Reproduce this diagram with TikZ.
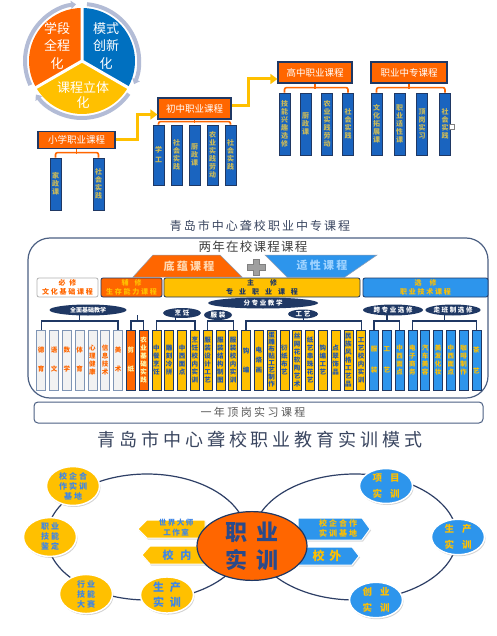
\documentclass[tikz,border=0pt]{standalone}
\usepackage{fontspec}
\setmainfont{Noto Sans CJK SC}
\usetikzlibrary{shapes.geometric,shadows,arrows.meta,calc}
\definecolor{cor}{HTML}{FF6600}
\definecolor{cbl}{HTML}{0070C0}
\definecolor{cye}{HTML}{FFC000}
\definecolor{navy}{HTML}{1F3864}
\definecolor{ring}{HTML}{B3BCD6}
\definecolor{tcolf}{HTML}{1A64BF}
\definecolor{tcolt}{HTML}{C9B95A}
\definecolor{lbl}{HTML}{2D95EC}
\definecolor{ybt}{HTML}{1F56B0}
\definecolor{gfill}{HTML}{F2F2F2}
\definecolor{gline}{HTML}{7F95B5}
\definecolor{ttl}{HTML}{3A4660}
\definecolor{cbt}{HTML}{3D86E8}
\definecolor{rline}{HTML}{2E3F66}
\definecolor{core}{HTML}{2A4A8A}
\definecolor{dyt}{HTML}{FFD8B0}
\definecolor{sxt}{HTML}{9FD3FF}
\begin{document}
\begin{tikzpicture}[x=1pt,y=-1pt,
  topbox/.style={draw=navy,line width=1.2,fill=cor,text=white,inner sep=0,font=\fontsize{9.5}{10}\selectfont},
  tcol/.style={draw=navy,line width=0.8,fill=tcolf,text=tcolt,minimum width=11,inner sep=0,align=center,font=\fontsize{7}{8}\selectfont\bfseries},
  obr/.style={draw=cor,line width=1.6,rounded corners=2},
  yarr/.style={draw=cye,line width=3,-{Triangle[length=7pt,width=10pt]}},
  rbox/.style={draw=navy,line width=0.8,rounded corners=2,minimum height=19,inner sep=0,align=center,font=\fontsize{7}{9.5}\selectfont\bfseries\addfontfeature{LetterSpace=25}},
  col/.style={draw=navy,line width=0.7,minimum width=9,minimum height=60,inner sep=0,align=center,font=\fontsize{6.5}{8}\selectfont\bfseries},
  gcol/.style={col,fill=gfill,draw=gline,text=cor},
  ocol/.style={col,fill=cor,text=yellow!30},
  ycol/.style={col,fill=cye,text=ybt},
  bcol/.style={col,fill=lbl,text=cye},
  lab/.style={ellipse,fill=navy,text=white,inner sep=0,font=\fontsize{6.5}{6.5}\selectfont\bfseries\addfontfeature{LetterSpace=25}},
  nbr/.style={draw=navy,line width=1.4},
  ycirc/.style={ellipse,fill=cye,draw=white,line width=1.5,drop shadow={opacity=0.35,shadow xshift=1pt,shadow yshift=-1.5pt},minimum width=53,minimum height=35,inner sep=0,align=center,text=cbt,font=\fontsize{8}{10}\selectfont\bfseries\addfontfeature{LetterSpace=25}},
  bcirc/.style={ycirc,fill=lbl,text=cye,font=\fontsize{9.5}{16}\selectfont\bfseries},
  pen/.style={draw=white,line width=1,drop shadow={opacity=0.3,shadow xshift=1pt,shadow yshift=-1.5pt}},
  ]
\useasboundingbox (0,0) rectangle (497,636);
\fill[white] (0,0) rectangle (497,636);

% ---------- pie ----------
\begin{scope}[shift={(82,61)},y=1pt]
  \fill[cor] (0,0) -- (90:53) arc[start angle=90,end angle=210,radius=53] -- cycle;
  \fill[cbl] (0,0) -- (-30:53) arc[start angle=-30,end angle=90,radius=53] -- cycle;
  \fill[cye] (0,0) -- (210:53) arc[start angle=210,end angle=330,radius=53] -- cycle;
  \draw[white,line width=3] (0,0) -- (90:54) (0,0) -- (210:54) (0,0) -- (330:54);
  \draw[ring,line width=4,-{Triangle[length=5pt,width=8pt]}] (205:57) arc[start angle=205,end angle=96,radius=57];
  \draw[ring,line width=4,-{Triangle[length=5pt,width=8pt]}] (85:57) arc[start angle=85,end angle=-24,radius=57];
  \draw[ring,line width=4,-{Triangle[length=5pt,width=8pt]}] (-35:57) arc[start angle=-35,end angle=-144,radius=57];
\end{scope}
\node[font=\fontsize{13}{17.5}\selectfont,text=white,align=center] (pa) at (57,46) {学段\\全程\\化};
\node[font=\fontsize{13}{17.5}\selectfont,text=white,align=center] (pb) at (106,46) {模式\\创新\\化};
\node[font=\fontsize{13}{15}\selectfont,text=white,align=center] (pc) at (83,95) {课程立体\\化};

% ---------- top boxes ----------
\node[topbox,minimum width=77,minimum height=17] (xiao) at (76.5,140) {小学职业课程};
\node[tcol,minimum height=52] (x1) at (55.5,184) {家\\政\\课};
\node[tcol,minimum height=52] (x2) at (98.5,184) {社\\会\\实\\践};
\draw[obr] (x1.north) -- ++(0,-5) -| (x2.north);
\draw[obr] (xiao.south) -- ++(0,4.5);

\node[topbox,minimum width=73,minimum height=21] (chu) at (194.5,108.5) {初中职业课程};
\node[tcol,minimum height=60] (m1) at (158.5,155) {学\\[2pt]工};
\node[tcol,minimum height=60] (m2) at (176.5,155) {社\\会\\实\\践};
\node[tcol,minimum height=60] (m3) at (194.5,155) {厨\\政\\课};
\node[tcol,minimum height=60] (m4) at (212.5,155) {农\\业\\实\\践\\劳\\动};
\node[tcol,minimum height=60] (m5) at (230.5,155) {社\\会\\实\\践};
\draw[obr] (m1.north) -- ++(0,-3) -| (m5.north);
\draw[obr] (chu.south) -- ++(0,3);

\node[topbox,minimum width=74,minimum height=21] (gao) at (315,72.5) {高中职业课程};
\node[tcol,minimum height=62] (g1) at (284.5,124) {技\\能\\兴\\趣\\选\\修};
\node[tcol,minimum height=62] (g2) at (305.5,124) {厨\\政\\课};
\node[tcol,minimum height=62] (g3) at (327,124) {农\\业\\实\\践\\劳\\动};
\node[tcol,minimum height=62] (g4) at (348,124) {社\\会\\实\\践};
\draw[obr] (g1.north) -- ++(0,-5) -| (g4.north);
\draw[obr] (gao.south) -- ++(0,5);

\node[topbox,minimum width=76,minimum height=21] (zz) at (409,72.5) {职业中专课程};
\node[tcol,minimum height=62] (z1) at (376.5,124) {文\\化\\拓\\展\\课};
\node[tcol,minimum height=62] (z2) at (399.5,124) {职\\业\\适\\性\\课};
\node[tcol,minimum height=62] (z3) at (422,124) {顶\\岗\\实\\习};
\node[tcol,minimum height=62] (z4) at (445,124) {社\\会\\实\\践};
\draw[obr] (z1.north) -- ++(0,-5) -| (z4.north);
\draw[obr] (zz.south) -- ++(0,5);
\draw[gray,fill=white,line width=0.5] (449,124) rectangle (454,129);

\draw[yarr] (xiao.east) -- ++(22,0) |- ([yshift=-6pt]chu.west);
\draw[yarr] ([yshift=3pt]chu.east) -- ++(17,0) |- ([yshift=-6.5pt]gao.west);

% ---------- middle ----------
\node[font=\fontsize{12}{12}\selectfont\addfontfeature{LetterSpace=17},text=ttl] (t1) at (260,226) {青岛市中心聋校职业中专课程};
\draw[navy!80,line width=1.2,rounded corners=22] (28,238) rectangle (488,398);
\node[font=\fontsize{12.5}{12.5}\selectfont\addfontfeature{LetterSpace=10},text=black!75] (t2) at (253,247) {两年在校课程课程};

\filldraw[fill=cor,draw=navy!50,line width=0.5] (133,277) -- (153,255) -- (220,255) -- (242,277) -- cycle;
\node[font=\fontsize{11}{11}\selectfont\bfseries\addfontfeature{LetterSpace=20},text=dyt] (dy) at (189,266) {底蕴课程};
\filldraw[fill=lbl,draw=navy!50,line width=0.5] (265,255) -- (377,255) -- (345,277) -- (287,277) -- cycle;
\node[font=\fontsize{11}{11}\selectfont\bfseries\addfontfeature{LetterSpace=20},text=sxt] (sx) at (322,265) {适性课程};
\filldraw[fill=gray!75,draw=gray] (247,264) -- (253,264) -- (253,259) -- (259,259) -- (259,264) -- (265,264) -- (265,270) -- (259,270) -- (259,275) -- (253,275) -- (253,270) -- (247,270) -- cycle;

\node[rbox,fill=white,draw=gray!60,text=cor,minimum width=61] (bx) at (67.5,287.5) {必\hspace{4pt}修\\文化基础课程};
\node[rbox,fill=cor,text=cye,minimum width=61] (fx) at (131.5,287.5) {辅\hspace{6pt}修\\生存能力课程};
\node[rbox,fill=cye,text=navy,minimum width=196] (zx) at (262,287.5) {主\hspace{16pt}修\\专\hspace{6pt}业\hspace{6pt}职\hspace{6pt}业\hspace{6pt}课\hspace{6pt}程};
\node[rbox,fill=lbl,text=cye,minimum width=125] (xx) at (425.5,287.5) {选\hspace{8pt}修\\职业技术课程};

% columns
\foreach \t [count=\i] in {{德\\[11pt]育},{语\\[11pt]文},{数\\[11pt]学},{体\\[11pt]育},{心\\理\\健\\康},{信\\息\\技\\术},{美\\[11pt]术}}
  \node[gcol] (c\i) at ({41.2+12.8*(\i-1)},360) {\t};
\foreach \t [count=\i from 8] in {{剪\\[11pt]纸},{农\\业\\基\\础\\实\\践}}
  \node[ocol] (c\i) at ({41.2+12.8*(\i-1)},360) {\t};
\foreach \t [count=\i from 10] in {{中\\餐\\烹\\饪},{雕\\刻\\冷\\拼},{中\\西\\面\\点},{烹\\饪\\校\\内\\实\\训},{服\\装\\设\\计\\工\\艺},{服\\装\\结\\构\\制\\图},{服\\装\\校\\内\\实\\训},{钩\\[11pt]编},{电\\[2pt]烙\\[2pt]画},{蛋\\[-1pt]雕\\[-1pt]布\\[-1pt]贴\\[-1pt]工\\[-1pt]艺\\[-1pt]制\\[-1pt]作},{衍\\纸\\布\\艺},{丝\\网\\花\\软\\陶\\艺\\术},{纸\\艺\\串\\珠\\花\\艺},{钩\\编\\工\\艺},{点\\翠\\饰\\品},{民\\族\\风\\格\\工\\艺\\品},{工\\艺\\校\\内\\实\\训}}
  \node[ycol] (c\i) at ({41.2+12.8*(\i-1)},360) {\t};
\foreach \t [count=\i from 27] in {{服\\[13pt]装},{工\\[13pt]艺},{中\\西\\面\\点},{电\\子\\商\\务},{汽\\车\\美\\容},{美\\发\\化\\妆},{中\\西\\面\\点},{咖\\啡\\制\\作},{茶\\[13pt]艺}}
  \node[bcol] (c\i) at ({41.2+12.8*(\i-1)},360) {\t};

% brackets
\coordinate (by) at (0,321);
\newcommand\nbrk[2]{%
  \draw[nbr] (#1.north) -- (#1.north |- by) -- (#2.north |- by) -- (#2.north);
  \draw[nbr] ($(#1.north |- by)!0.5!(#2.north |- by)$) -- ++(0,-6);}
\nbrk{c1}{c7}
\nbrk{c8}{c9}
\nbrk{c10}{c13}
\nbrk{c14}{c16}
\nbrk{c17}{c26}
\nbrk{c27}{c29}
\nbrk{c30}{c35}

\node[lab,minimum width=77,minimum height=11,font=\fontsize{6}{6}\selectfont\bfseries] (e1) at (88,310) {全面基础教学};
\node[lab,minimum width=110,minimum height=11] (e2) at (263,303) {分专业教学};
\node[lab,minimum width=38,minimum height=10] (e3) at (182,313) {烹饪};
\node[lab,minimum width=28,minimum height=10] (e4) at (218,315) {服装};
\node[lab,minimum width=30,minimum height=9] (e5) at (303,314) {工艺};
\node[lab,minimum width=60,minimum height=11] (e6) at (393,310) {跨专业选修};
\node[lab,minimum width=54,minimum height=11] (e7) at (453,310) {走班制选修};

\node[draw=navy!80,line width=1,rounded corners=4,minimum width=449,minimum height=21] (yn) at (258.5,412.5) {};
\node[font=\fontsize{11}{11}\selectfont\addfontfeature{LetterSpace=22},text=black!65] (ynt) at (253,412.5) {一年顶岗实习课程};

% ---------- bottom ----------
\node[font=\fontsize{18}{18}\selectfont\addfontfeature{LetterSpace=22},text=ttl] (t3) at (260,440) {青岛市中心聋校职业教育实训模式};

\node[draw=rline,line width=1.2,ellipse,minimum width=200,minimum height=126,inner sep=0] (lr) at (147,537) {};
\node[draw=rline,line width=1.2,ellipse,minimum width=204,minimum height=126,inner sep=0] (rr) at (355,537) {};

\filldraw[pen,fill=cye] (138,529) -- (147,520) -- (205,520) -- (205,538) -- (147,538) -- cycle;
\filldraw[pen,fill=cye] (142,555) -- (150,546) -- (205,546) -- (205,564) -- (150,564) -- cycle;
\filldraw[pen,fill=lbl] (298,518) -- (362,518) -- (370,529) -- (362,540) -- (298,540) -- cycle;
\filldraw[pen,fill=lbl] (298,547) -- (352,547) -- (359,556) -- (352,565) -- (298,565) -- cycle;
\node[font=\fontsize{7.5}{10}\selectfont\bfseries\addfontfeature{LetterSpace=20},text=cbt,align=center] (p1t) at (176,528) {世界大师\\工作室};
\node[font=\fontsize{11}{11}\selectfont\bfseries,text=cbt] (p2t) at (177,555) {校\hspace{7pt}内};
\node[font=\fontsize{8}{10}\selectfont\bfseries\addfontfeature{LetterSpace=25},text=cye,align=center] (p3t) at (338,528) {校企合作\\实训基地};
\node[font=\fontsize{12}{12}\selectfont\bfseries,text=cye] (p4t) at (327,556) {校\hspace{5pt}外};

\node[ellipse,fill=cor,draw=navy,line width=1.2,minimum width=110,minimum height=68,inner sep=0,text=core,align=center,font=\fontsize{22}{28}\selectfont\bfseries] (core) at (252,546) {职\hspace{10pt}业\\实\hspace{10pt}训};

\node[ycirc] (l1) at (73,486) {校企合\\作实训\\基地};
\node[ycirc] (l2) at (50,537) {职业\\技能\\鉴定};
\node[ycirc] (l3) at (86,594) {行业\\技能\\大赛};
\node[ycirc,font=\fontsize{11}{15}\selectfont\bfseries] (l4) at (167,595) {生\hspace{6pt}产\\实\hspace{6pt}训};

\node[bcirc] (r1) at (386,486) {项\hspace{8pt}目\\实\hspace{8pt}训};
\node[bcirc] (r2) at (458,537) {生\hspace{8pt}产\\实\hspace{8pt}训};
\node[bcirc] (r3) at (376,600) {创\hspace{8pt}业\\实\hspace{8pt}训};
\end{tikzpicture}
\end{document}
